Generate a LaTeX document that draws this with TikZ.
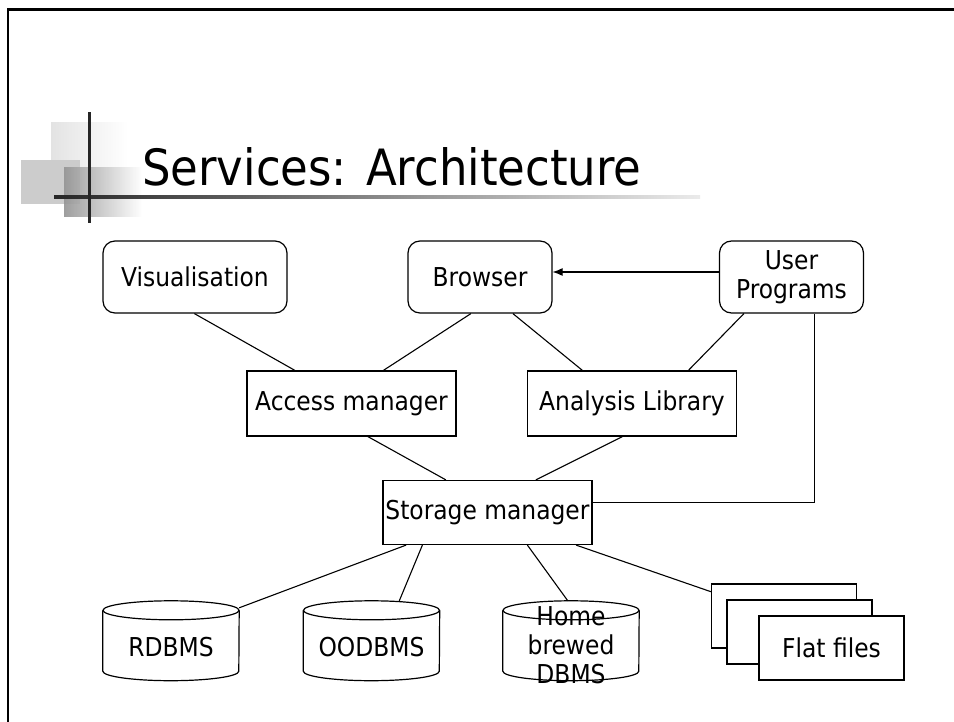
\documentclass[tikz,border=0pt]{standalone}
\usepackage{fontspec}
\IfFontExistsTF{DejaVu Sans Condensed}{\setmainfont{DejaVu Sans Condensed}}{\setmainfont{DejaVu Sans}[FakeStretch=0.9]}
\usetikzlibrary{arrows.meta,calc}
\newcommand\drawcyl[1]{%
  \draw[cylline] ($(#1.north west)+(0,9.5)$) -- ($(#1.south west)+(0,-10)$)
    arc[start angle=180,end angle=0,x radius=68,y radius=9.5] -- ($(#1.north east)+(0,9.5)$);
  \draw[cylline] ($(#1.north)+(0,9.5)$) ellipse[x radius=68,y radius=9.5];}
\begin{document}
\begin{tikzpicture}[x=1pt,y=-1pt,
  txt/.style={font=\fontsize{26}{30}\selectfont, align=center},
  box/.style={txt, draw, line width=1.2pt, fill=white, inner sep=0pt},
  rbox/.style={box, rounded corners=12pt},
  conn/.style={line width=1.1pt},
  cylline/.style={line width=1.2pt},
  cylnode/.style={inner sep=0pt, minimum width=136, minimum height=80},
  cyltext/.style={txt, inner sep=0pt, font=\fontsize{26}{29}\selectfont},
  filebox/.style={box, minimum width=145, minimum height=64},
]
\useasboundingbox (0,0) rectangle (954,722);
\fill[white] (0,0) rectangle (954,722);
% frame
\draw[line width=2.6pt] (8,722) -- (8,9.5) -- (954,9.5);
% logo
\shade[left color=black!11, right color=white] (51,123) rectangle (128,190);
\fill[black!20] (21,160) rectangle (80,204);
\shade[left color=black!42, right color=white, opacity=0.9] (64,168) rectangle (142,217);
\shade[left color=black!85, right color=black!8] (54,195.5) rectangle (700,198.5);
\fill[black!85] (87.5,112) rectangle (90.5,223);
% title
\node[anchor=base west, inner sep=0pt, font=\fontsize{50}{58}\selectfont] (title) at (142,186) {Services: Architecture};
% top row
\node[rbox, minimum width=184, minimum height=72] (vis) at (195,277) {Visualisation};
\node[rbox, minimum width=144, minimum height=72] (browser) at (480,277) {Browser};
\node[rbox, minimum width=144, minimum height=72, font=\fontsize{26}{29}\selectfont] (user) at (791.5,277) {User\\Programs};
% middle
\node[box, minimum width=209, minimum height=65] (access) at (351.5,403.5) {Access manager};
\node[box, minimum width=209, minimum height=65] (analysis) at (632,403.5) {Analysis Library};
\node[box, minimum width=209, minimum height=64] (storage) at (487.5,512.5) {Storage manager};
% connectors
\draw[conn, -{Latex[length=10pt,width=8pt]}] (user.west |- 0,272) -- (browser.east |- 0,272);
\draw[conn] ($(vis.south west)+(92,0)$) -- ($(access.north west)+(48.5,0)$);
\draw[conn] ($(browser.south west)+(63.5,0)$) -- ($(access.north west)+(137,0)$);
\draw[conn] ($(browser.south west)+(105.5,0)$) -- ($(analysis.north west)+(55.5,0)$);
\draw[conn] ($(user.south west)+(25,0)$) -- ($(analysis.north west)+(161.5,0)$);
\draw[conn] ($(user.south west)+(96,0)$) |- ($(storage.north east)+(0,22.6)$);
\draw[conn] ($(access.south west)+(121.5,0)$) -- ($(storage.north west)+(63.5,0)$);
\draw[conn] ($(analysis.south west)+(95.5,0)$) -- ($(storage.north west)+(153.5,0)$);
% bottom row
\node[cylnode] (rdbms) at (171,641) {};
\node[cylnode] (oodbms) at (371.5,641) {};
\node[cylnode] (home) at (571,641) {};
\drawcyl{rdbms}
\drawcyl{oodbms}
\drawcyl{home}
\node[cyltext, yshift=-6pt] at (rdbms.center) {RDBMS};
\node[cyltext, yshift=-6pt] at (oodbms.center) {OODBMS};
\node[cyltext, yshift=-4.5pt] at (home.center) {Home\\brewed\\DBMS};
\node[filebox] (file3) at (784,616) {};
\node[filebox] (file2) at (799.5,632) {};
\node[filebox] (file1) at (831.5,648) {Flat files};
\draw[conn] ($(storage.south west)+(23.7,0)$) -- ($(rdbms.north east)+(0,7)$);
\draw[conn] ($(storage.south west)+(40,0)$) -- ($(oodbms.north west)+(96,0)$);
\draw[conn] ($(storage.south west)+(145,0)$) -- ($(home.north west)+(65,0)$);
\draw[conn] ($(storage.south west)+(193.7,0)$) -- ($(file3.north west)+(0,8.3)$);
\end{tikzpicture}
\end{document}
